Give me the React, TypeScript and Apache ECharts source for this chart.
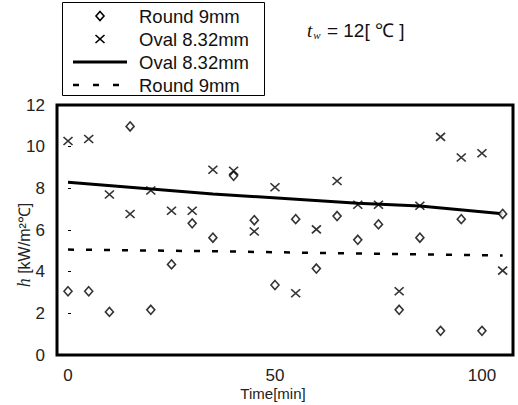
import React, { useEffect, useRef } from "react";
import * as echarts from "echarts";

const times = [0, 5, 10, 15, 20, 25, 30, 35, 40, 45, 50, 55, 60, 65, 70, 75, 80, 85, 90, 95, 100, 105];
const roundValues = [3.06, 3.06, 2.07, 10.97, 2.17, 4.35, 6.32, 5.63, 8.6, 6.47, 3.36, 6.52, 4.15, 6.67, 5.53, 6.27, 2.17, 5.63, 1.16, 6.52, 1.16, 6.77];
const ovalValues = [10.27, 10.37, 7.7, 6.77, 7.9, 6.92, 6.92, 8.89, 8.84, 5.93, 8.05, 2.96, 6.03, 8.35, 7.21, 7.21, 3.06, 7.16, 10.47, 9.48, 9.68, 4.05];
const ovalFitTimes = [0, 35, 70, 85, 105];
const ovalFitValues = [8.29, 7.73, 7.28, 7.15, 6.78];
const roundFitTimes = [0, 35, 70, 105];
const roundFitValues = [5.06, 4.98, 4.87, 4.78];
const xTicks = [0, 50, 100];
const yTicks = [0, 2, 4, 6, 8, 10, 12];
const legendLabels = ["Round 9mm", "Oval 8.32mm", "Oval 8.32mm", "Round 9mm"];

const pairs = (xs: number[], ys: number[]) => xs.map((x, i) => [x, ys[i]]);

export default function App() {
  const ref = useRef<HTMLDivElement>(null);
  useEffect(() => {
    if (!ref.current) return;
    const chart = echarts.init(ref.current, null, { renderer: "svg" });
    const font = "'Liberation Sans', Arial, sans-serif";
    const rowY = [16, 39, 62, 85];
    const legendGraphics: any[] = [
      {
        type: "rect",
        shape: { x: 62.5, y: 2.5, width: 202, height: 93 },
        style: { fill: "#fff", stroke: "#000", lineWidth: 1 },
        z: 10,
      },
      {
        type: "polygon",
        shape: { points: [[100, rowY[0] - 4.5], [104, rowY[0]], [100, rowY[0] + 4.5], [96, rowY[0]]] },
        style: { fill: "#fff", stroke: "#000", lineWidth: 1.6 },
        z: 11,
      },
      {
        type: "line",
        shape: { x1: 95.5, y1: rowY[1] - 4, x2: 104.5, y2: rowY[1] + 4 },
        style: { stroke: "#000", lineWidth: 1.6 },
        z: 11,
      },
      {
        type: "line",
        shape: { x1: 95.5, y1: rowY[1] + 4, x2: 104.5, y2: rowY[1] - 4 },
        style: { stroke: "#000", lineWidth: 1.6 },
        z: 11,
      },
      {
        type: "line",
        shape: { x1: 73, y1: rowY[2], x2: 127, y2: rowY[2] },
        style: { stroke: "#000", lineWidth: 3 },
        z: 11,
      },
      {
        type: "line",
        shape: { x1: 73, y1: rowY[3], x2: 127, y2: rowY[3] },
        style: { stroke: "#000", lineWidth: 2.5, lineDash: [6, 14] },
        z: 11,
      },
      ...legendLabels.map((t, i) => ({
        type: "text",
        x: 139,
        y: rowY[i],
        style: { text: t, fontFamily: font, fontSize: 18.5, fill: "#111", verticalAlign: "middle", align: "left" },
        z: 11,
      })),
      {
        type: "text",
        x: 307,
        y: 30,
        style: {
          text: "{i|t}{s|w}{n| = 12[ ℃ ]}",
          verticalAlign: "middle",
          rich: {
            i: { fontFamily: "'Liberation Serif', serif", fontStyle: "italic", fontSize: 19, fill: "#111" },
            s: { fontFamily: "'Liberation Serif', serif", fontStyle: "italic", fontSize: 11, fill: "#111", padding: [9, 1, 0, 1] },
            n: { fontFamily: font, fontSize: 19, fill: "#111" },
          },
        },
        z: 11,
      },
    ];
    chart.setOption({
      animation: false,
      backgroundColor: "#fff",
      textStyle: { fontFamily: font },
      grid: {
        left: 57,
        right: 5,
        top: 105,
        bottom: 50,
        outerBoundsMode: "none",
        containLabel: false,
        show: true,
        borderColor: "#000",
        borderWidth: 3,
        backgroundColor: "transparent",
      },
      graphic: legendGraphics,
      xAxis: {
        type: "value",
        min: -2.66,
        max: 107.5,
        name: "Time[min]",
        nameLocation: "middle",
        nameGap: 31,
        nameMoveOverlap: false,
        nameTextStyle: { fontFamily: font, fontSize: 15, color: "#222", padding: [0, 24, 0, 0] },
        axisLine: { show: false },
        axisTick: { show: false, customValues: xTicks },
        splitLine: { show: false },
        axisLabel: { customValues: xTicks, margin: 12, fontSize: 17, color: "#222", fontFamily: font },
      },
      yAxis: {
        type: "value",
        min: 0,
        max: 12,
        name: "{i|h} [kW/m²℃]",
        nameLocation: "middle",
        nameRotate: 90,
        nameGap: 24,
        nameMoveOverlap: false,
        nameTextStyle: {
          fontFamily: font,
          fontSize: 16,
          color: "#222",
          padding: [0, 30, 0, 0],
          rich: {
            i: { fontFamily: "'Liberation Serif', serif", fontStyle: "italic", fontSize: 18, color: "#222" },
          },
        },
        axisLine: { show: false },
        axisTick: { show: true, inside: true, length: 3, customValues: yTicks, lineStyle: { color: "#000" } },
        splitLine: { show: false },
        axisLabel: { customValues: yTicks, margin: 12, fontSize: 17, color: "#222", fontFamily: font, padding: [9, 0, 0, 0] },
      },
      series: [
        {
          name: "Round 9mm",
          type: "scatter",
          symbol: "diamond",
          symbolSize: [8, 9],
          itemStyle: { color: "#fff", borderColor: "#000", borderWidth: 1.6 },
          data: pairs(times, roundValues),
          z: 3,
        },
        {
          name: "Oval 8.32mm",
          type: "scatter",
          symbol: "path://M0,0L10,10M0,10L10,0",
          symbolSize: [9, 8],
          itemStyle: { color: "rgba(0,0,0,0)", borderColor: "#000", borderWidth: 1.6 },
          data: pairs(times, ovalValues),
          z: 3,
        },
        {
          name: "Oval 8.32mm fit",
          type: "line",
          symbol: "none",
          lineStyle: { color: "#000", width: 3 },
          data: pairs(ovalFitTimes, ovalFitValues),
          z: 2,
        },
        {
          name: "Round 9mm fit",
          type: "line",
          symbol: "none",
          lineStyle: { color: "#000", width: 2.5, type: [6, 12] },
          data: pairs(roundFitTimes, roundFitValues),
          z: 2,
        },
      ],
    });
    return () => chart.dispose();
  }, []);
  return <div ref={ref} style={{ width: 518, height: 405, position: "absolute", left: 0, top: 0 }} />;
}
